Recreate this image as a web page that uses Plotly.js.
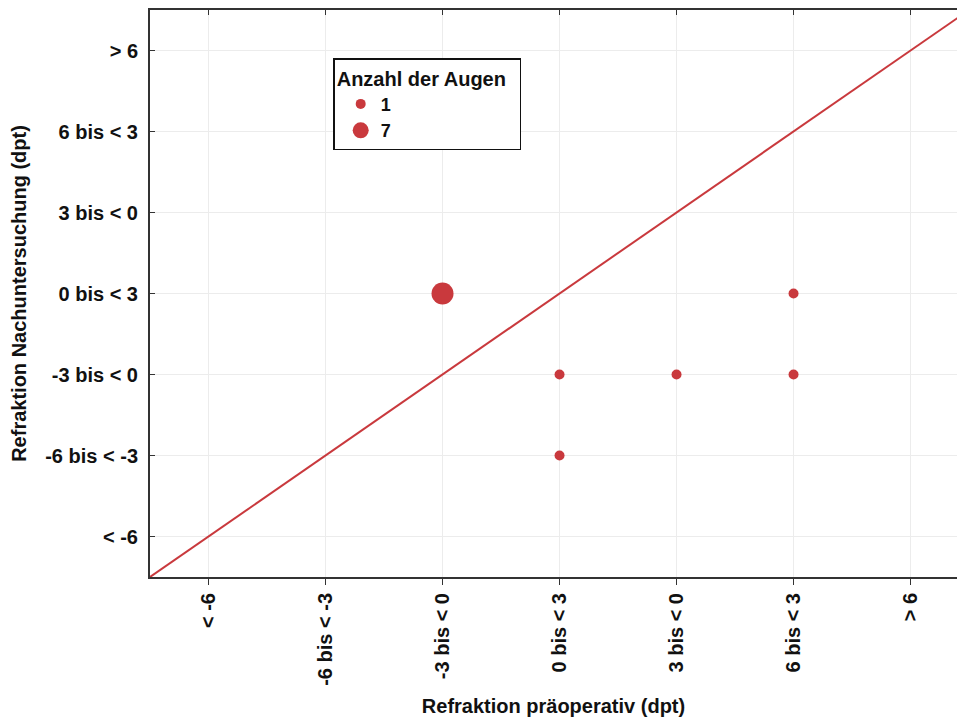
<!DOCTYPE html>
<html>
<head>
<meta charset="utf-8">
<script src="https://cdn.plot.ly/plotly-3.0.1.min.js"></script>
<style>html,body{margin:0;padding:0;background:#fff;}#chart{width:957px;height:720px;}</style>
</head>
<body>
<div id="chart"></div>
<script>
// Categories (same for both axes, bottom/left to top/right)
const categories = ["< -6", "-6 bis < -3", "-3 bis < 0", "0 bis < 3", "3 bis < 0", "6 bis < 3", "> 6"];
// Data points: preoperative category, follow-up category, number of eyes
const pointPre  = ["-3 bis < 0", "0 bis < 3", "0 bis < 3", "3 bis < 0", "6 bis < 3", "6 bis < 3"];
const pointPost = ["0 bis < 3", "-3 bis < 0", "-6 bis < -3", "-3 bis < 0", "0 bis < 3", "-3 bis < 0"];
const pointCount = [7, 1, 1, 1, 1, 1];
const legendCounts = [1, 7];

const RED = "#c9393d";
const FONT = "Liberation Sans, Arial, sans-serif";
const idx = c => categories.indexOf(c);
const sizeOf = n => 10 + (n - 1) * 2;

const traces = [];
// identity line y = x
traces.push({
  x: [-0.5, categories.length], y: [-0.5, categories.length],
  mode: "lines", line: {color: RED, width: 2}, showlegend: false, hoverinfo: "skip"
});
legendCounts.forEach(n => {
  const xs = [], ys = [];
  pointCount.forEach((c, i) => { if (c === n) { xs.push(idx(pointPre[i])); ys.push(idx(pointPost[i])); } });
  traces.push({
    x: xs, y: ys, mode: "markers", name: String(n),
    marker: {color: RED, size: sizeOf(n), line: {width: 0}}
  });
});
// invisible trace on top axis
traces.push({x: [0], y: [0], xaxis: "x2", mode: "markers", marker: {opacity: 0}, showlegend: false, hoverinfo: "skip"});

const tickIdx = categories.map((c, i) => i);
const tickFont = {family: FONT, size: 20, color: "#111", weight: 700};

const layout = {
  width: 957, height: 720,
  margin: {l: 150, r: 0, t: 10, b: 143},
  paper_bgcolor: "#fff", plot_bgcolor: "#fff",
  font: {family: FONT},
  xaxis: {
    range: [-0.5, 6.397], tickvals: tickIdx, ticktext: categories, tickangle: -90,
    tickfont: tickFont, ticks: "outside", ticklen: 6, tickwidth: 1.5, tickcolor: "#333",
    showline: true, linecolor: "#333", linewidth: 2,
    showgrid: true, gridcolor: "#ececec", gridwidth: 1, zeroline: false,
    title: {text: "Refraktion präoperativ (dpt)", font: {family: FONT, size: 20, color: "#111", weight: 700}, standoff: 14}
  },
  xaxis2: {
    overlaying: "x", side: "top", matches: "x", range: [-0.5, 6.397], tickvals: tickIdx,
    showticklabels: false, ticks: "inside", ticklen: 5, tickwidth: 1.5, tickcolor: "#333",
    showline: true, linecolor: "#333", linewidth: 2, showgrid: false, zeroline: false
  },
  yaxis: {
    range: [-0.5, 6.5], tickvals: tickIdx, ticktext: categories,
    tickfont: tickFont, ticks: "inside", ticklen: 5, tickwidth: 1.5, tickcolor: "#333",
    ticklabelstandoff: 6,
    showline: true, linecolor: "#333", linewidth: 2,
    showgrid: true, gridcolor: "#ececec", gridwidth: 1, zeroline: false,
    title: {text: "Refraktion Nachuntersuchung (dpt)", font: {family: FONT, size: 20, color: "#111", weight: 700}, standoff: 13}
  },
  showlegend: true,
  legend: {
    x: 0.227, y: 0.915, xanchor: "left", yanchor: "top",
    bordercolor: "#111", borderwidth: 1.5, bgcolor: "#fff",
    font: {family: FONT, size: 18, color: "#111", weight: 700},
    title: {text: "Anzahl der Augen&nbsp;&nbsp;", side: "top", font: {family: FONT, size: 20, color: "#111", weight: 700}},
    itemsizing: "trace", tracegroupgap: 0, indentation: 6
  }
};

Plotly.newPlot("chart", traces, layout, {displayModeBar: false, staticPlot: true});
</script>
</body>
</html>
